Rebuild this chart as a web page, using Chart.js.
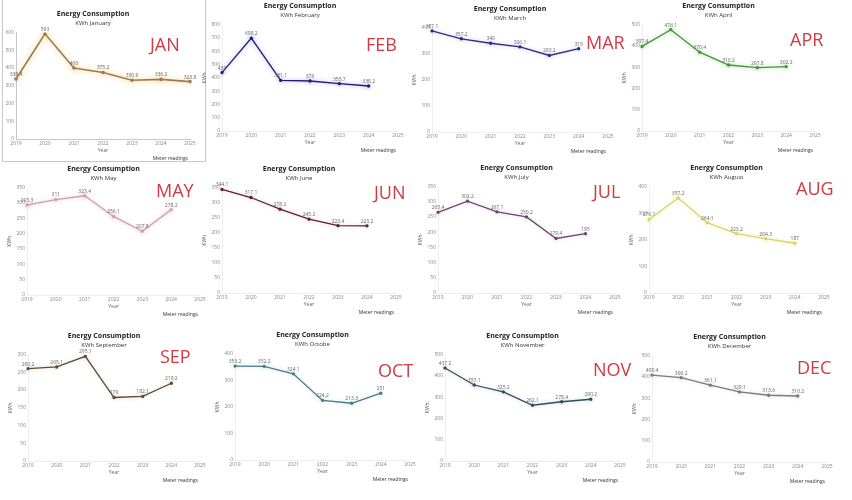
<!DOCTYPE html>
<html>
<head>
<meta charset="utf-8">
<script src="https://cdn.jsdelivr.net/npm/chart.js@4.4.1/dist/chart.umd.min.js"></script>
<style>
  html, body { margin: 0; padding: 0; background: #fff; }
  body { width: 852px; height: 500px; position: relative; overflow: hidden; font-family: 'Open Sans', sans-serif; }
  canvas { position: absolute; }
  .month { position: absolute; color: #cf3a43; font-size: 18px; line-height: 1; white-space: nowrap; }
  .frame { position: absolute; border: 1px solid #c8c8c8; }
</style>
</head>
<body>
<div class="frame" style="left:2px;top:-3px;width:202px;height:163px"></div>
<script>
// data
const years = ['2019', '2020', '2021', '2022', '2023', '2024', '2025'];
const monthNames = ['January', 'February', 'March', 'April', 'May', 'June', 'July', 'August', 'September', 'Octobe', 'November', 'December'];
const monthTags = ['JAN', 'FEB', 'MAR', 'APR', 'MAY', 'JUN', 'JUL', 'AUG', 'SEP', 'OCT', 'NOV', 'DEC'];

const janValues = [338.4, 593, 400, 375.2, 330.9, 336.2, 323.8];
const febValues = [439, 698.2, 381.1, 376, 355.7, 338.2];
const marValues = [387.1, 357.2, 340, 326.1, 293.2, 319];
const aprValues = [397.4, 476.1, 370.4, 310.2, 297.8, 302.2];
const mayValues = [293.3, 311, 323.4, 256.1, 207.8, 278.2];
const junValues = [344.1, 317.1, 278.2, 245.2, 223.4, 223.2];
const julValues = [265.4, 302.2, 267.1, 250.2, 179.4, 195];
const augValues = [276.1, 357.2, 264.1, 223.2, 204.3, 187];
const sepValues = [260.2, 265.1, 295.1, 179, 182.1, 219.2];
const octValues = [353.2, 352.2, 324.1, 224.2, 213.3, 251];
const novValues = [437.2, 357.1, 325.2, 262.1, 278.4, 290.2];
const decValues = [408.4, 396.2, 361.1, 329.1, 313.6, 310.2];

const seriesValues = [janValues, febValues, marValues, aprValues, mayValues, junValues,
  julValues, augValues, sepValues, octValues, novValues, decValues];
const yMax = [600, 800, 400, 500, 350, 350, 350, 400, 300, 400, 500, 500];
const yStep = [100, 100, 100, 100, 50, 50, 50, 100, 50, 100, 100, 100];

// looks
const lineColors = ['#9c7a4a', '#1c1c78', '#2b2f7a', '#4a8f3f', '#c9a3ad', '#5c1f33',
  '#6e4570', '#d9d26a', '#5e4b2e', '#4a7a85', '#2f4e5c', '#7a7a7a'];
const glowColors = ['rgba(245,190,100,0.9)', 'rgba(90,90,220,0.5)', 'rgba(90,90,200,0.35)', 'rgba(90,200,80,0.6)',
  'rgba(220,150,170,0.5)', 'rgba(140,60,80,0.25)', 'rgba(150,90,150,0.25)', 'rgba(230,220,100,0.5)',
  'rgba(120,100,60,0.25)', 'rgba(80,140,150,0.25)', 'rgba(60,90,110,0.25)', 'rgba(120,120,120,0.25)'];
// plot rect: left, right, top, bottom
const plotRects = [
  [16, 190, 33, 138], [222, 398, 25, 130], [432, 608, 28, 131], [642, 815, 25, 130],
  [27, 200, 188, 294], [222, 396, 188, 292], [438, 615, 187, 292], [649, 824, 187, 292],
  [28, 200, 355, 460], [235, 410, 354, 459], [445, 620, 355, 460], [652, 827, 356, 461]
];
const tagPos = [
  [150, 35], [366, 35], [586, 33], [790, 30],
  [156, 181], [374, 183], [593, 182], [796, 179],
  [160, 347], [378, 361], [593, 360], [797, 358]
];

const FONT = "'Open Sans', sans-serif";

const glow = {
  id: 'glow',
  beforeDatasetsDraw(chart, args, opts) {
    chart.ctx.save();
    chart.ctx.shadowColor = opts.color;
    chart.ctx.shadowBlur = opts.blur;
  },
  afterDatasetsDraw(chart) {
    chart.ctx.restore();
  }
};

const pointLabels = {
  id: 'pointLabels',
  afterDatasetsDraw(chart) {
    const ctx = chart.ctx;
    const ds = chart.data.datasets[0];
    ctx.save();
    ctx.font = '5px ' + FONT;
    ctx.fillStyle = '#666';
    ctx.textAlign = 'center';
    ctx.textBaseline = 'bottom';
    chart.getDatasetMeta(0).data.forEach((pt, i) => {
      const v = ds.data[i];
      if (v == null) return;
      ctx.fillText(String(v), pt.x, pt.y - 2);
    });
    ctx.restore();
  }
};

const makeChart = (idx) => {
  const [L, R, T, B] = plotRects[idx];
  const left = L - 22, top = Math.round(T - 24.6);
  const w = (R - L) + 36, h = (B - T) + 58;
  const cv = document.createElement('canvas');
  cv.width = w; cv.height = h;
  cv.style.left = left + 'px'; cv.style.top = top + 'px';
  cv.style.width = w + 'px'; cv.style.height = h + 'px';
  document.body.appendChild(cv);

  const tag = document.createElement('div');
  tag.className = 'month';
  tag.textContent = monthTags[idx];
  tag.style.left = tagPos[idx][0] + 'px';
  tag.style.top = tagPos[idx][1] + 'px';
  document.body.appendChild(tag);

  const isJan = idx === 0;
  new Chart(cv.getContext('2d'), {
    type: 'line',
    data: {
      labels: years,
      datasets: [{
        label: 'Meter readings',
        data: seriesValues[idx],
        borderColor: lineColors[idx],
        backgroundColor: lineColors[idx],
        borderWidth: isJan ? 1.6 : 1.3,
        pointRadius: 1,
        pointHoverRadius: 1,
        tension: 0,
        fill: false
      }]
    },
    options: {
      responsive: false,
      animation: false,
      devicePixelRatio: 1,
      layout: { padding: { left: 2, right: 14, top: 0, bottom: 0 } },
      plugins: {
        title: {
          display: true,
          text: 'Energy Consumption',
          color: '#222',
          font: { size: 7, weight: 'bold', family: FONT },
          padding: { top: 2, bottom: 1 }
        },
        subtitle: {
          display: true,
          text: 'KWh ' + monthNames[idx],
          color: '#333',
          font: { size: 6, family: FONT },
          padding: { top: 0, bottom: 6 }
        },
        legend: {
          display: true,
          position: 'bottom',
          align: 'end',
          labels: { boxWidth: 0, boxHeight: 0, padding: 2, color: '#333', font: { size: 5, family: FONT } }
        },
        tooltip: { enabled: false },
        glow: { color: glowColors[idx], blur: isJan ? 6 : 4 }
      },
      scales: {
        x: {
          grid: { display: false, drawTicks: false },
          border: { color: isJan ? '#c8c8c8' : '#eeeeee' },
          ticks: { padding: 2, color: '#888', font: { size: 5, family: FONT }, maxRotation: 0, autoSkip: false },
          title: { display: true, text: 'Year', color: '#666', font: { size: 5, family: FONT }, padding: { top: 1, bottom: 0 } },
          afterFit: (s) => { s.height = 15; }
        },
        y: {
          min: 0,
          max: yMax[idx],
          grid: { display: false, drawTicks: false },
          border: { color: isJan ? '#c8c8c8' : '#eeeeee' },
          ticks: { stepSize: yStep[idx], padding: 2, color: '#888', font: { size: 5, family: FONT } },
          title: { display: true, text: 'KWh', color: '#555', font: { size: 5, family: FONT }, padding: 0 },
          afterFit: (s) => { s.width = 20; }
        }
      }
    },
    plugins: [glow, pointLabels]
  });
};

for (let i = 0; i < 12; i++) makeChart(i);
</script>
</body>
</html>
